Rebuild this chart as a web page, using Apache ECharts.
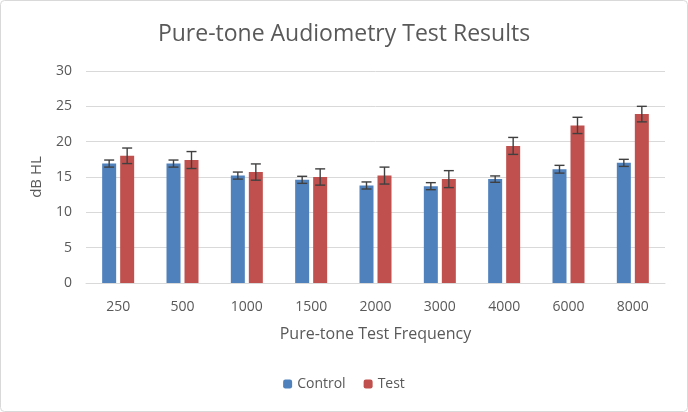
<!DOCTYPE html>
<html><head><meta charset="utf-8">
<script src="https://cdn.jsdelivr.net/npm/echarts@6/dist/echarts.min.js"></script>
<style>html,body{margin:0;padding:0;background:#fff}#c{width:688px;height:412px}</style>
</head><body><div id="c"></div>
<script>
const categories = ['250','500','1000','1500','2000','3000','4000','6000','8000'];
const controlMean = [16.9, 16.9, 15.2, 14.6, 13.8, 13.7, 14.7, 16.1, 17.0];
const controlErr  = [0.5, 0.5, 0.5, 0.5, 0.5, 0.5, 0.45, 0.55, 0.5];
const testMean    = [18.0, 17.4, 15.7, 15.0, 15.2, 14.7, 19.4, 22.3, 23.9];
const testErr     = [1.1, 1.2, 1.15, 1.15, 1.2, 1.2, 1.2, 1.15, 1.1];

const BAR_W = 14, GAP = 4;
const TXT = '#595959';
const FONT = '"Open Sans", "Noto Sans", sans-serif';

function errSeries(name, means, errs, side) {
  return {
    type: 'custom', name: name + ' err', z: 10, silent: true,
    data: means.map((m, i) => [i, m - errs[i], m + errs[i]]),
    renderItem: function (params, api) {
      const i = api.value(0);
      const lo = api.coord([i, api.value(1)]);
      const hi = api.coord([i, api.value(2)]);
      const x = lo[0] + side * (BAR_W + GAP) / 2;
      const cap = 5;
      const st = { stroke: '#404040', lineWidth: 1.4 };
      return { type: 'group', children: [
        { type: 'line', shape: { x1: x, y1: lo[1], x2: x, y2: hi[1] }, style: st },
        { type: 'line', shape: { x1: x - cap, y1: lo[1], x2: x + cap, y2: lo[1] }, style: st },
        { type: 'line', shape: { x1: x - cap, y1: hi[1], x2: x + cap, y2: hi[1] }, style: st }
      ]};
    },
    encode: { x: 0, y: [1, 2] }
  };
}

const chart = echarts.init(document.getElementById('c'));
chart.setOption({
  animation: false,
  backgroundColor: '#fff',
  title: { text: 'Pure-tone Audiometry Test Results', left: 'center', top: 18,
    textStyle: { fontFamily: FONT, fontSize: 23, fontWeight: 'normal', color: TXT } },
  graphic: [{ type: 'rect', shape: { x: 0.5, y: 0.5, width: 687, height: 411, r: 4 },
    style: { fill: 'none', stroke: '#d9d9d9', lineWidth: 1 }, z: 100 }],
  legend: { bottom: 16, left: 'center', itemWidth: 9, itemHeight: 9, itemGap: 18,
    data: ['Control', 'Test'],
    textStyle: { fontFamily: FONT, fontSize: 14, color: TXT } },
  grid: { left: 86, right: 23, top: 71, bottom: 129 },
  xAxis: { type: 'category', data: categories,
    name: 'Pure-tone Test Frequency', nameLocation: 'middle', nameGap: 43,
    nameTextStyle: { fontFamily: FONT, fontSize: 16, color: TXT },
    axisLine: { lineStyle: { color: '#d9d9d9' } }, axisTick: { show: false },
    axisLabel: { fontFamily: FONT, fontSize: 14, color: TXT, margin: 17 } },
  yAxis: { type: 'value', min: 0, max: 30, interval: 5,
    name: 'dB HL', nameLocation: 'middle', nameGap: 42, nameRotate: 90,
    nameTextStyle: { fontFamily: FONT, fontSize: 15, color: TXT },
    axisLine: { show: false }, axisTick: { show: false },
    splitLine: { lineStyle: { color: '#d9d9d9' } },
    axisLabel: { fontFamily: FONT, fontSize: 14, color: TXT, margin: 14 } },
  series: [
    { type: 'bar', name: 'Control', data: controlMean, barWidth: BAR_W, barGap: (GAP / BAR_W * 100) + '%',
      itemStyle: { color: '#4F81BD' } },
    { type: 'bar', name: 'Test', data: testMean, barWidth: BAR_W,
      itemStyle: { color: '#C0504D' } },
    errSeries('Control', controlMean, controlErr, -1),
    errSeries('Test', testMean, testErr, 1)
  ]
});
</script></body></html>
